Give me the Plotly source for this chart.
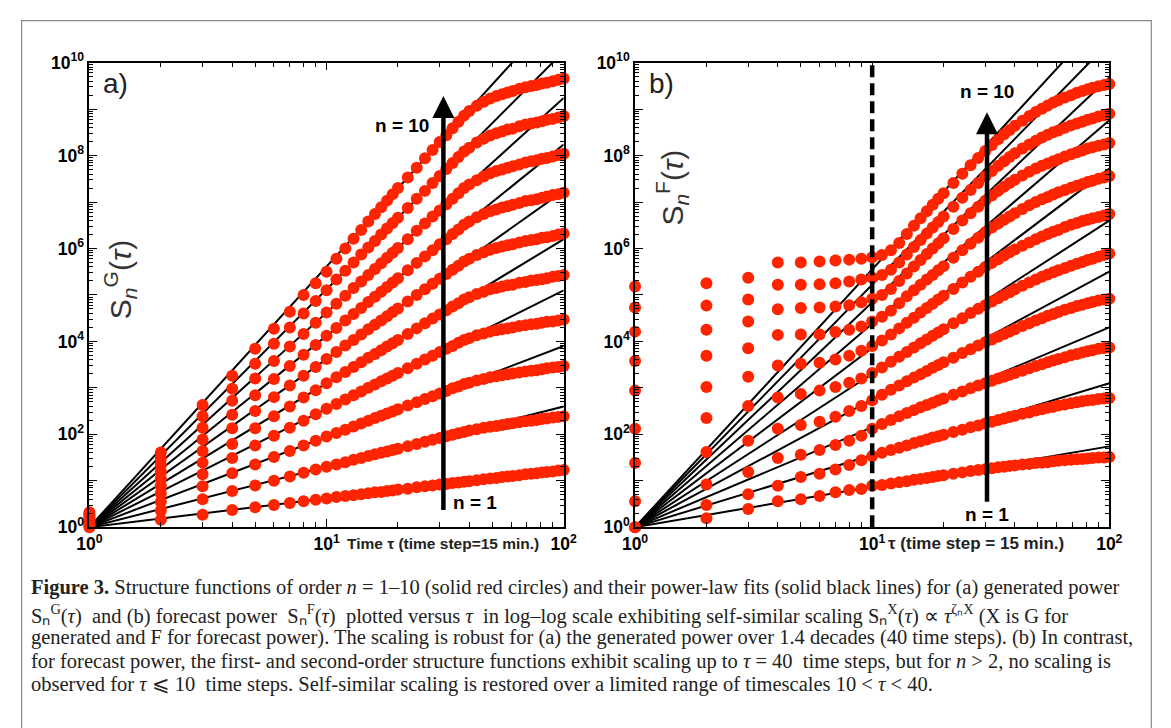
import plotly.graph_objects as go

W, H = 1171, 728

# ---------------- data (log10 of S_n(tau)) ----------------
tau = [1, 2, 3, 4, 5, 6, 7, 8, 9, 10, 11, 12, 13, 14, 15, 16, 17, 18, 19, 20,
       22, 24, 26, 28, 30, 32, 34, 36, 38, 40, 43, 46, 49, 52, 55, 58, 61, 65,
       69, 73, 77, 81, 85, 90, 95, 100]

# panel (a): generated power
a_n1 = [0.00, 0.16, 0.27, 0.37, 0.43, 0.48, 0.52, 0.56, 0.59, 0.62, 0.65, 0.67, 0.69, 0.71, 0.73, 0.75, 0.76, 0.78, 0.79, 0.81,
        0.83, 0.86, 0.88, 0.90, 0.92, 0.93, 0.95, 0.96, 0.98, 0.99, 1.01, 1.03, 1.05, 1.06, 1.08, 1.09, 1.10, 1.12, 1.14, 1.15, 1.16, 1.18, 1.19, 1.20, 1.22, 1.23]
a_n2 = [0.03, 0.36, 0.60, 0.78, 0.90, 1.00, 1.09, 1.17, 1.24, 1.30, 1.35, 1.40, 1.45, 1.49, 1.53, 1.57, 1.60, 1.63, 1.66, 1.69,
        1.74, 1.79, 1.84, 1.88, 1.92, 1.96, 1.99, 2.02, 2.05, 2.08, 2.11, 2.14, 2.16, 2.18, 2.20, 2.22, 2.24, 2.26, 2.28, 2.29, 2.31, 2.33, 2.34, 2.36, 2.37, 2.39]
a_n3 = [0.06, 0.55, 0.88, 1.16, 1.35, 1.51, 1.64, 1.76, 1.86, 1.95, 2.03, 2.10, 2.17, 2.23, 2.29, 2.35, 2.40, 2.45, 2.49, 2.54,
        2.62, 2.69, 2.76, 2.82, 2.88, 2.93, 2.99, 3.03, 3.08, 3.11, 3.16, 3.19, 3.23, 3.25, 3.27, 3.29, 3.31, 3.33, 3.35, 3.37, 3.38, 3.40, 3.42, 3.44, 3.45, 3.47]
a_n4 = [0.09, 0.73, 1.14, 1.49, 1.76, 1.97, 2.14, 2.29, 2.43, 2.55, 2.65, 2.75, 2.84, 2.92, 3.00, 3.07, 3.14, 3.20, 3.26, 3.32,
        3.42, 3.52, 3.61, 3.69, 3.77, 3.84, 3.90, 3.97, 4.03, 4.07, 4.13, 4.17, 4.21, 4.24, 4.26, 4.28, 4.30, 4.33, 4.35, 4.37, 4.38, 4.40, 4.42, 4.43, 4.45, 4.47]
a_n5 = [0.12, 0.89, 1.39, 1.79, 2.13, 2.39, 2.60, 2.79, 2.95, 3.10, 3.23, 3.34, 3.45, 3.55, 3.65, 3.73, 3.81, 3.89, 3.96, 4.03,
        4.16, 4.28, 4.39, 4.49, 4.58, 4.67, 4.75, 4.82, 4.90, 4.95, 5.02, 5.07, 5.12, 5.15, 5.18, 5.21, 5.22, 5.26, 5.28, 5.31, 5.32, 5.34, 5.36, 5.39, 5.41, 5.43]
a_n6 = [0.16, 1.05, 1.64, 2.13, 2.50, 2.80, 3.05, 3.26, 3.45, 3.62, 3.77, 3.91, 4.03, 4.15, 4.26, 4.36, 4.45, 4.54, 4.63, 4.71,
        4.86, 5.00, 5.12, 5.24, 5.35, 5.45, 5.54, 5.63, 5.72, 5.78, 5.86, 5.92, 5.97, 6.01, 6.04, 6.07, 6.09, 6.13, 6.16, 6.18, 6.20, 6.23, 6.24, 6.27, 6.30, 6.32]
a_n7 = [0.20, 1.20, 1.89, 2.42, 2.84, 3.19, 3.47, 3.71, 3.92, 4.12, 4.29, 4.45, 4.59, 4.72, 4.85, 4.96, 5.07, 5.17, 5.27, 5.36,
        5.53, 5.69, 5.83, 5.96, 6.09, 6.20, 6.31, 6.41, 6.51, 6.58, 6.67, 6.74, 6.80, 6.84, 6.88, 6.91, 6.94, 6.98, 7.02, 7.04, 7.06, 7.09, 7.12, 7.15, 7.17, 7.20]
a_n8 = [0.24, 1.34, 2.14, 2.72, 3.20, 3.58, 3.89, 4.16, 4.40, 4.62, 4.81, 4.98, 5.15, 5.29, 5.43, 5.56, 5.68, 5.80, 5.91, 6.01,
        6.20, 6.38, 6.54, 6.69, 6.82, 6.95, 7.07, 7.19, 7.30, 7.38, 7.47, 7.55, 7.62, 7.67, 7.70, 7.74, 7.77, 7.81, 7.85, 7.88, 7.90, 7.93, 7.95, 7.98, 8.01, 8.04]
a_n9 = [0.28, 1.48, 2.39, 2.98, 3.52, 3.95, 4.30, 4.60, 4.87, 5.10, 5.33, 5.52, 5.70, 5.87, 6.02, 6.16, 6.30, 6.43, 6.55, 6.66,
        6.87, 7.07, 7.24, 7.41, 7.56, 7.71, 7.84, 7.97, 8.09, 8.17, 8.28, 8.36, 8.43, 8.48, 8.52, 8.56, 8.58, 8.63, 8.67, 8.69, 8.71, 8.74, 8.77, 8.79, 8.82, 8.85]
a_n10 = [0.32, 1.61, 2.63, 3.26, 3.84, 4.27, 4.64, 5.00, 5.25, 5.50, 5.78, 6.00, 6.21, 6.40, 6.58, 6.74, 6.89, 7.03, 7.17, 7.30,
         7.53, 7.74, 7.94, 8.12, 8.29, 8.44, 8.59, 8.73, 8.86, 8.96, 9.07, 9.16, 9.23, 9.28, 9.32, 9.36, 9.39, 9.44, 9.47, 9.50, 9.52, 9.55, 9.57, 9.60, 9.63, 9.66]

# panel (b): forecast power
b_n1 = [0.00, 0.19, 0.39, 0.56, 0.60, 0.67, 0.75, 0.80, 0.82, 0.89, 0.91, 0.94, 0.97, 0.99, 1.02, 1.04, 1.06, 1.08, 1.10, 1.12,
        1.15, 1.18, 1.21, 1.23, 1.25, 1.27, 1.29, 1.30, 1.32, 1.33, 1.35, 1.36, 1.38, 1.39, 1.40, 1.42, 1.43, 1.44, 1.45, 1.46, 1.47, 1.48, 1.49, 1.50, 1.50, 1.51]
b_n2 = [0.00, 0.48, 0.71, 0.89, 1.08, 1.15, 1.24, 1.34, 1.44, 1.53, 1.60, 1.66, 1.71, 1.76, 1.81, 1.85, 1.89, 1.93, 1.96, 1.99,
        2.05, 2.10, 2.15, 2.19, 2.23, 2.27, 2.31, 2.34, 2.37, 2.40, 2.44, 2.47, 2.51, 2.54, 2.57, 2.59, 2.62, 2.64, 2.67, 2.69, 2.71, 2.73, 2.74, 2.76, 2.77, 2.78]
b_n3 = [0.56, 0.92, 1.19, 1.49, 1.56, 1.66, 1.77, 1.86, 1.97, 2.12, 2.22, 2.31, 2.39, 2.46, 2.52, 2.58, 2.63, 2.68, 2.73, 2.77,
        2.85, 2.92, 2.99, 3.05, 3.10, 3.15, 3.20, 3.24, 3.28, 3.32, 3.37, 3.42, 3.47, 3.51, 3.55, 3.59, 3.62, 3.66, 3.70, 3.73, 3.76, 3.79, 3.81, 3.84, 3.86, 3.87]
b_n4 = [1.38, 1.62, 1.86, 2.12, 2.20, 2.27, 2.38, 2.50, 2.61, 2.73, 2.85, 2.96, 3.05, 3.14, 3.22, 3.29, 3.36, 3.43, 3.49, 3.55,
        3.65, 3.75, 3.83, 3.91, 3.98, 4.04, 4.10, 4.16, 4.21, 4.26, 4.33, 4.39, 4.45, 4.50, 4.55, 4.59, 4.63, 4.68, 4.72, 4.76, 4.79, 4.82, 4.85, 4.88, 4.90, 4.92]
b_n5 = [2.12, 2.35, 2.61, 2.79, 2.87, 2.94, 3.02, 3.11, 3.20, 3.32, 3.44, 3.56, 3.67, 3.77, 3.87, 3.96, 4.04, 4.12, 4.19, 4.26,
        4.39, 4.50, 4.61, 4.70, 4.78, 4.86, 4.93, 5.00, 5.06, 5.12, 5.20, 5.27, 5.33, 5.39, 5.44, 5.49, 5.53, 5.58, 5.63, 5.67, 5.71, 5.75, 5.78, 5.82, 5.86, 5.89]
b_n6 = [2.94, 3.02, 3.24, 3.48, 3.52, 3.54, 3.61, 3.69, 3.80, 3.90, 4.02, 4.15, 4.28, 4.40, 4.51, 4.62, 4.72, 4.81, 4.90, 4.98,
        5.13, 5.27, 5.39, 5.50, 5.60, 5.69, 5.77, 5.85, 5.92, 5.98, 6.06, 6.13, 6.20, 6.26, 6.31, 6.36, 6.40, 6.46, 6.51, 6.55, 6.59, 6.62, 6.65, 6.68, 6.71, 6.74]
b_n7 = [3.58, 3.69, 3.85, 4.14, 4.15, 4.15, 4.20, 4.25, 4.32, 4.43, 4.53, 4.66, 4.82, 4.97, 5.10, 5.22, 5.33, 5.43, 5.53, 5.62,
        5.80, 5.96, 6.10, 6.23, 6.35, 6.45, 6.54, 6.62, 6.69, 6.76, 6.85, 6.93, 7.00, 7.06, 7.11, 7.16, 7.21, 7.26, 7.31, 7.35, 7.39, 7.43, 7.46, 7.50, 7.53, 7.56]
b_n8 = [4.21, 4.25, 4.43, 4.69, 4.72, 4.73, 4.75, 4.78, 4.84, 4.92, 5.00, 5.13, 5.30, 5.46, 5.61, 5.75, 5.88, 6.00, 6.11, 6.22,
        6.42, 6.60, 6.76, 6.90, 7.03, 7.14, 7.24, 7.33, 7.41, 7.48, 7.57, 7.65, 7.72, 7.78, 7.83, 7.88, 7.92, 7.98, 8.03, 8.07, 8.11, 8.15, 8.18, 8.21, 8.24, 8.27]
b_n9 = [4.73, 4.77, 4.90, 5.22, 5.22, 5.23, 5.25, 5.29, 5.33, 5.37, 5.43, 5.54, 5.70, 5.87, 6.03, 6.18, 6.32, 6.45, 6.57, 6.69,
        6.90, 7.09, 7.26, 7.41, 7.55, 7.67, 7.78, 7.88, 7.97, 8.05, 8.15, 8.24, 8.32, 8.39, 8.45, 8.50, 8.54, 8.60, 8.65, 8.69, 8.73, 8.77, 8.80, 8.84, 8.87, 8.90]
b_n10 = [5.18, 5.25, 5.37, 5.70, 5.70, 5.72, 5.74, 5.76, 5.78, 5.81, 5.86, 5.96, 6.12, 6.31, 6.49, 6.65, 6.80, 6.94, 7.07, 7.19,
         7.41, 7.61, 7.79, 7.95, 8.10, 8.23, 8.35, 8.46, 8.55, 8.64, 8.75, 8.85, 8.94, 9.01, 9.08, 9.14, 9.19, 9.25, 9.30, 9.35, 9.39, 9.43, 9.46, 9.49, 9.52, 9.54]

# power-law fit exponents zeta_n (fits S = tau^zeta)
zeta_a = [0.62, 1.30, 1.95, 2.55, 3.10, 3.62, 4.12, 4.62, 5.12, 5.61]
zeta_b = [0.87, 1.55, 2.15, 2.75, 3.30, 3.86, 4.38, 4.84, 5.22, 5.55]

series_a = [a_n1, a_n2, a_n3, a_n4, a_n5, a_n6, a_n7, a_n8, a_n9, a_n10]
series_b = [b_n1, b_n2, b_n3, b_n4, b_n5, b_n6, b_n7, b_n8, b_n9, b_n10]

fit_tau = [1, 100]
# arrows (tau position, log10 bottom, log10 tip)
arrow_a = (31.1, 0.37, 9.28)
arrow_b = (30.5, 0.55, 8.93)
dash_tau = 10

# ---------------- style ----------------
RED = "#ff2400"
SANS = "Liberation Sans, Arial, sans-serif"
SERIF = "Liberation Serif, Times New Roman, serif"

# page offset: the browser page adds an 8px body margin, so positions are shifted
OFF = 8
# plot areas in pixels (as seen in the reference), converted to figure pixels
AX_A = (78 - OFF, 563 - OFF)
AX_B = (636 - OFF, 1121 - OFF)
AX_Y = (52 - OFF, 531 - OFF)

fig = go.Figure()


def add_panel(series, zetas, xa, ya):
    for z in zetas:
        fig.add_trace(go.Scatter(
            x=fit_tau, y=[t ** z for t in fit_tau], mode="lines",
            line=dict(color="black", width=2), xaxis=xa, yaxis=ya,
            showlegend=False, hoverinfo="skip"))
    for s in series:
        fig.add_trace(go.Scatter(
            x=tau, y=[10 ** v for v in s], mode="markers",
            marker=dict(color=RED, size=12, line=dict(width=0)),
            xaxis=xa, yaxis=ya, cliponaxis=False, showlegend=False))


add_panel(series_a, zeta_a, "x", "y")
add_panel(series_b, zeta_b, "x2", "y2")

# dashed line at tau = 10 (panel b)
fig.add_trace(go.Scatter(x=[dash_tau, dash_tau], y=[1, 1e10], mode="lines",
                         line=dict(color="black", width=4.5, dash="12px,6px"),
                         xaxis="x2", yaxis="y2", showlegend=False))

# arrows
for (t, lo, hi), xa, ya in [(arrow_a, "x", "y"), (arrow_b, "x2", "y2")]:
    fig.add_trace(go.Scatter(x=[t, t], y=[10 ** lo, 10 ** (hi - 0.3)], mode="lines",
                             line=dict(color="black", width=4.5),
                             xaxis=xa, yaxis=ya, showlegend=False))
    fig.add_trace(go.Scatter(x=[t], y=[10 ** hi], mode="markers",
                             marker=dict(symbol="arrow-up", size=22, color="black",
                                         line=dict(width=0)),
                             xaxis=xa, yaxis=ya, cliponaxis=False, showlegend=False))


def px_dom(p0, p1, total, flip=False):
    if flip:
        return [1 - p1 / total, 1 - p0 / total]
    return [p0 / total, p1 / total]


ydecades = list(range(0, 11))
ytickvals = [10 ** k for k in ydecades]
yticktext = [f"10<sup>{k}</sup>" if k % 2 == 0 else "" for k in ydecades]
yminor = [m * 10 ** k for k in range(0, 10) for m in range(2, 10)]
xtickvals = [1, 10, 100]
xticktext = ["10<sup>0</sup>", "10<sup>1</sup>", "10<sup>2</sup>"]
xminor = [m * 10 ** k for k in range(0, 2) for m in range(2, 10)]

tickfont = dict(family=SANS, size=17.5, color="black", weight="bold")
common_x = dict(type="log", range=[0, 2], tickmode="array", tickvals=xtickvals,
                ticktext=xticktext, ticks="inside", ticklen=8, tickwidth=1.3,
                tickcolor="black", showline=True, linecolor="black", linewidth=1.6,
                mirror="allticks", showgrid=False, zeroline=False, tickfont=tickfont,
                minor=dict(tickvals=xminor, ticks="inside", ticklen=5, tickwidth=1,
                           tickcolor="black", showgrid=False))
common_y = dict(type="log", range=[0, 10], tickmode="array", tickvals=ytickvals,
                ticktext=yticktext, ticks="inside", ticklen=8, tickwidth=1.3,
                tickcolor="black", showline=True, linecolor="black", linewidth=1.6,
                mirror="allticks", showgrid=False, zeroline=False, tickfont=tickfont,
                minor=dict(tickvals=yminor, ticks="inside", ticklen=4, tickwidth=1,
                           tickcolor="black", showgrid=False))

fig.update_layout(
    width=W, height=H, autosize=False,
    margin=dict(l=0, r=0, t=0, b=0),
    paper_bgcolor="white", plot_bgcolor="white",
    xaxis=dict(domain=px_dom(*AX_A, W), anchor="y", **common_x),
    yaxis=dict(domain=px_dom(*AX_Y, H, flip=True), anchor="x", **common_y),
    xaxis2=dict(domain=px_dom(*AX_B, W), anchor="y2", **common_x),
    yaxis2=dict(domain=px_dom(*AX_Y, H, flip=True), anchor="x2", **common_y),
)

ann = []
lab_font = dict(family=SANS, size=19, color="black", weight="bold")
# panel labels
ann.append(dict(text="a)", xref="x domain", yref="y domain", x=0.025, y=0.955,
                xanchor="left", yanchor="middle", showarrow=False,
                font=dict(family=SANS, size=28, color="#222")))
ann.append(dict(text="b)", xref="x2 domain", yref="y2 domain", x=0.025, y=0.955,
                xanchor="left", yanchor="middle", showarrow=False,
                font=dict(family=SANS, size=28, color="#222")))
# n labels (x, y in log10 units)
ann.append(dict(text="n = 10", xref="x", yref="y", x=1.44, y=8.64, xanchor="right",
                yanchor="middle", showarrow=False, font=lab_font))
ann.append(dict(text="n = 1", xref="x", yref="y", x=1.525, y=0.54, xanchor="left",
                yanchor="middle", showarrow=False, font=lab_font))
ann.append(dict(text="n = 10", xref="x2", yref="y2", x=1.484, y=9.37, xanchor="center",
                yanchor="middle", showarrow=False, font=lab_font))
ann.append(dict(text="n = 1", xref="x2", yref="y2", x=1.484, y=0.28, xanchor="center",
                yanchor="middle", showarrow=False, font=lab_font))
# y titles inside plots
ann.append(dict(text="S<sub><i>n</i></sub><sup>G</sup>(<i>τ</i>)", xref="x", yref="y",
                x=0.127, y=5.33, textangle=-90, showarrow=False,
                font=dict(family=SANS, size=30, color="#333")))
ann.append(dict(text="S<sub><i>n</i></sub><sup>F</sup>(<i>τ</i>)", xref="x2", yref="y2",
                x=0.158, y=7.3, textangle=-90, showarrow=False,
                font=dict(family=SANS, size=30, color="#333")))
# x titles next to 10^1 tick label
XT_Y = 548 - OFF
xt_font = dict(family=SANS, size=15.5, color="#222", weight="bold")
ann.append(dict(text="Time τ (time step=15 min.)", xref="x", yref="paper", x=1.079,
                y=1 - XT_Y / H, xanchor="left", yanchor="middle", showarrow=False,
                font=xt_font))
ann.append(dict(text="τ (time step = 15 min.)", xref="x2", yref="paper", x=1.06,
                y=1 - XT_Y / H, xanchor="left", yanchor="middle", showarrow=False,
                font=dict(family=SANS, size=17, color="#222", weight="bold")))

# caption
cap = [
    "<b>Figure 3.</b> Structure functions of order <i>n</i> = 1–10 (solid red circles) and their power-law fits (solid black lines) for (a) generated power",
    "Sₙ<sup>G</sup>(<i>τ</i>)  and (b) forecast power  Sₙ<sup>F</sup>(<i>τ</i>)  plotted versus <i>τ</i>  in log–log scale exhibiting self-similar scaling Sₙ<sup>X</sup>(<i>τ</i>) ∝ <i>τ</i><sup>ζₙX</sup> (X is G for",
    "generated and F for forecast power). The scaling is robust for (a) the generated power over 1.4 decades (40 time steps). (b) In contrast,",
    "for forecast power, the first- and second-order structure functions exhibit scaling up to <i>τ</i> = 40  time steps, but for <i>n</i> > 2, no scaling is",
    "observed for <i>τ</i> ⩽ 10  time steps. Self-similar scaling is restored over a limited range of timescales 10 < <i>τ</i> < 40.",
]
cap_y = [593, 621, 645, 669, 693]
for line, yy in zip(cap, cap_y):
    ann.append(dict(text=line, xref="paper", yref="paper", x=(16 - OFF) / W,
                    y=1 - (yy - OFF) / H, xanchor="left", yanchor="middle",
                    showarrow=False, font=dict(family=SERIF, size=20.5, color="#222")))

fig.update_layout(annotations=ann)

# outer frame (reference frame at ~7px from the edges)
fig.add_shape(type="rect", xref="paper", yref="paper", x0=0.6 / W, x1=(1164 - OFF) / W,
              y0=-0.05, y1=1 - 0.6 / H, line=dict(color="#8a8a8a", width=1.2))

fig.write_html("out.html")
